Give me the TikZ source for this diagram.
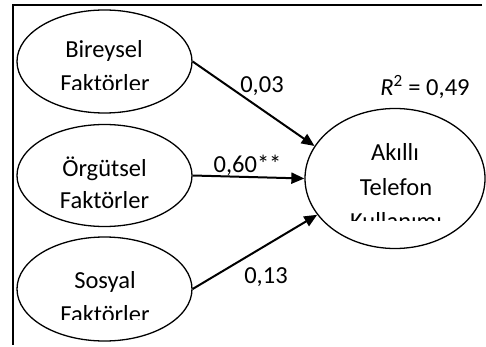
\documentclass[tikz,border=0pt]{standalone}
\usepackage{fontspec}
\setmainfont{Carlito}
\usetikzlibrary{shapes.geometric,arrows.meta}
\begin{document}
\begin{tikzpicture}[x=1pt,y=-1pt,
  ell/.style={draw,ellipse,line width=1.3pt,inner sep=0pt},
  lbl/.style={anchor=base,inner sep=0pt,font=\fontsize{24.5}{29}\selectfont},
  arr/.style={line width=2pt,-{Triangle[length=13pt,width=11pt]}}]
\useasboundingbox (0,0) rectangle (486,347);
\draw[line width=1.3pt] (482,5) -- (13,5) -- (13,345);
% ellipses
\node[ell,minimum width=175pt,minimum height=103pt] (bir) at (104.5,61.5) {};
\node[ell,minimum width=175pt,minimum height=102pt] (org) at (104.5,175.5) {};
\node[ell,minimum width=175pt,minimum height=104pt] (sos) at (104.5,289) {};
\node[ell,minimum width=180pt,minimum height=140pt] (ak) at (395,178.5) {};
% texts
\node[lbl] (bir1) at (104,58) {Bireysel};
\begin{scope}
\clip (20,60) rectangle (190,90);
\node[lbl] (bir2) at (105,92) {Faktörler};
\end{scope}
\node[lbl] (org1) at (104.5,177) {Örgütsel};
\node[lbl] (org2) at (104.5,208) {Faktörler};
\node[lbl] (sos1) at (105,288) {Sosyal};
\begin{scope}
\clip (20,290) rectangle (190,319);
\node[lbl] (sos2) at (105,322) {Faktörler};
\end{scope}
\node[lbl] (ak1) at (395,161) {Akıllı};
\node[lbl] (ak2) at (396,195) {Telefon};
\begin{scope}
\clip (320,200) rectangle (470,220);
\node[lbl] (ak3) at (396,229) {Kullanımı};
\end{scope}
% arrows
\draw[arr] (bir.east) -- (ak.158);
\draw[arr] (org.east) -- (ak.west);
\draw[arr] (sos.east) -- (ak.205);
% labels
\node[lbl] (l1) at (262,93) {0,03};
\node[lbl] (l2) at (247.5,172) {0,60**};
\node[lbl] (l3) at (266,283) {0,13};
\node[lbl] (r2) at (425,96) {\textit{R}\textsuperscript{2} = 0,49};
\end{tikzpicture}
\end{document}
